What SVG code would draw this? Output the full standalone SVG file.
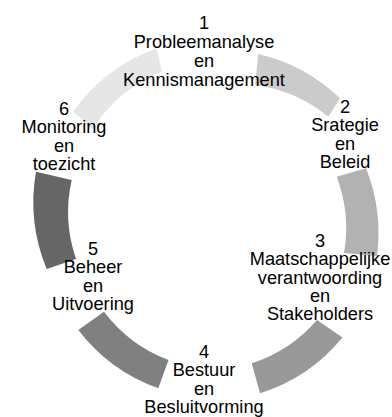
<svg xmlns="http://www.w3.org/2000/svg" width="392" height="417" viewBox="0 0 392 417">
<style>
text{font-family:"Liberation Sans",Arial,sans-serif;font-size:18.2px;fill:#000;text-anchor:middle}
.arc{stroke:none}
</style>
<rect width="392" height="417" fill="#fff"/>
<g id="connectors">
<path class="arc" fill="#e6e6e6" d="M73.3,111.7 A175,175 0 0 1 156.7,48.3 L161.7,71.7 A145,145 0 0 0 92.5,129.3 Z"/>
<path class="arc" fill="#cbcbcb" d="M258.3,54 A175,175 0 0 1 340,98.3 L328.3,116.7 A145,145 0 0 0 255,85 Z"/>
<path class="arc" fill="#b2b2b2" d="M366,168.3 A175,175 0 0 1 377,256 L344,253 A145,145 0 0 0 336.7,176.7 Z"/>
<path class="arc" fill="#999999" d="M342.5,337.5 A175,175 0 0 1 260,393.3 L251.7,363.3 A145,145 0 0 0 317,320 Z"/>
<path class="arc" fill="#808080" d="M158.3,388.3 A175,175 0 0 1 78.3,330 L104,311.7 A145,145 0 0 0 168.5,360 Z"/>
<path class="arc" fill="#666666" d="M46.7,269 A175,175 0 0 1 36,171.7 L71.7,180 A145,145 0 0 0 76,259 Z"/>
</g>
<g id="node1">
<text x="204" y="28.7">1</text>
<text x="204" y="48.3">Probleemanalyse</text>
<text x="204" y="67.3">en</text>
<text x="204" y="86.3">Kennismanagement</text>
</g>
<g id="node2">
<text x="345" y="112.5">2</text>
<text x="345" y="131">Srategie</text>
<text x="345" y="149.5">en</text>
<text x="345" y="168">Beleid</text>
</g>
<g id="node3">
<text x="320" y="247">3</text>
<text x="320" y="265.3">Maatschappelijke</text>
<text x="320" y="283.6">verantwoording</text>
<text x="320" y="302">en</text>
<text x="320" y="320.3">Stakeholders</text>
</g>
<g id="node4">
<text x="204" y="357.5">4</text>
<text x="204" y="376">Bestuur</text>
<text x="204" y="394.5">en</text>
<text x="204" y="413">Besluitvorming</text>
</g>
<g id="node5">
<text x="93" y="255">5</text>
<text x="93" y="273.3">Beheer</text>
<text x="93" y="291.7">en</text>
<text x="93" y="310">Uitvoering</text>
</g>
<g id="node6">
<text x="64" y="115">6</text>
<text x="64" y="133.3">Monitoring</text>
<text x="64" y="151.7">en</text>
<text x="64" y="170">toezicht</text>
</g>
</svg>
